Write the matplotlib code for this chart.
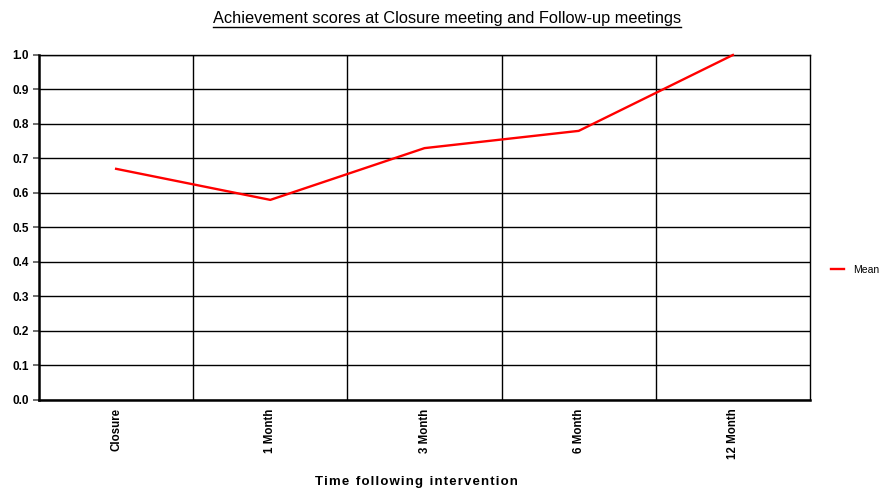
import matplotlib
matplotlib.use('Agg')
import matplotlib.pyplot as plt
from matplotlib.lines import Line2D

plt.rcParams['font.family'] = ['Liberation Sans', 'DejaVu Sans']

# data
categories = ['Closure', '1 Month', '3 Month', '6 Month', '12 Month']
mean_scores = [0.67, 0.58, 0.73, 0.78, 1.0]
y_ticks = [0.0, 0.1, 0.2, 0.3, 0.4, 0.5, 0.6, 0.7, 0.8, 0.9, 1.0]

fig = plt.figure(figsize=(8.81, 4.9), dpi=100)
ax = fig.add_axes([0.0443, 0.1837, 0.8751, 0.7041])

x = list(range(len(categories)))
ax.plot(x, mean_scores, color='#ff0000', linewidth=1.7, label='Mean', clip_on=False, zorder=5)

ax.set_xlim(-0.5, len(categories) - 0.5)
ax.set_ylim(0, 1.0)

# category labels at band centres, grid at band edges
ax.set_xticks(x)
ax.set_xticklabels(categories, rotation=90, fontsize=8.3, fontweight='bold', va='top')
ax.set_xticks([i + 0.5 for i in range(len(categories) - 1)], minor=True)
ax.tick_params(axis='x', which='both', length=0, pad=6)

ax.set_yticks(y_ticks)
ax.set_yticklabels(['%.1f' % v for v in y_ticks], fontsize=8.5, fontweight='bold')
ax.tick_params(axis='y', length=4.5, width=1.2, color='#555555', pad=3)

ax.grid(True, which='major', axis='y', color='black', linewidth=1.0)
ax.grid(True, which='minor', axis='x', color='black', linewidth=1.0)
ax.set_axisbelow(True)

for side in ['left', 'bottom']:
    ax.spines[side].set_linewidth(1.8)
for side in ['top', 'right']:
    ax.spines[side].set_linewidth(1.0)

ax.set_xlabel('T i m e   f o l l o w i n g   i n t e r v e n t i o n'.replace('   ', '\u2002').replace(' ', '\u200a'),
              fontsize=9.5, fontweight='bold', labelpad=12)
ax.xaxis.set_label_coords(0.49, -0.22)

ax.legend(loc='center left', bbox_to_anchor=(1.015, 0.377), frameon=False,
          fontsize=7.5, handlelength=1.3, handletextpad=0.8)

title = fig.text(0.507, 0.962, 'Achievement scores at Closure meeting and Follow-up meetings',
                 ha='center', va='center', fontsize=11.8)

# underline the title
fig.canvas.draw()
bb = title.get_window_extent()
W, H = fig.bbox.width, fig.bbox.height
yl = (bb.y0 - 1.0) / H
fig.add_artist(Line2D([bb.x0 / W, bb.x1 / W], [yl, yl], color='black', linewidth=1.0))

plt.savefig('out.png', dpi=100, facecolor='white')
plt.close()
